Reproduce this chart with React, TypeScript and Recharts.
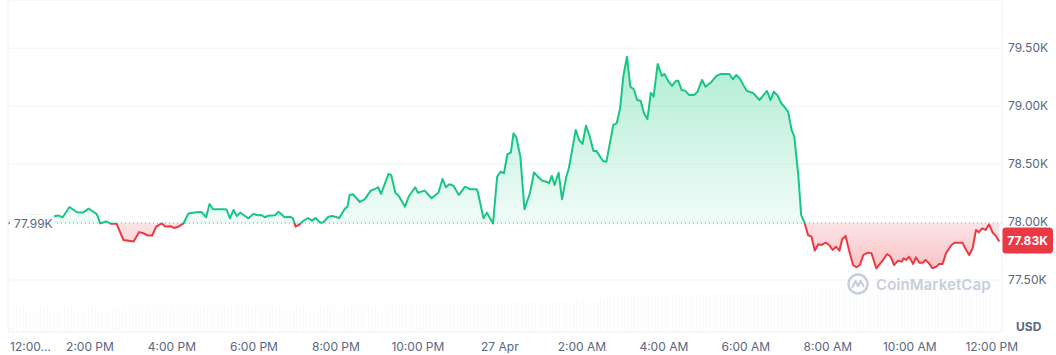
import React from 'react';
import { ComposedChart, Area, Bar, XAxis, YAxis, CartesianGrid, ReferenceLine } from 'recharts';

// Minutes since 12:00 PM (26 Apr)
const minutes = [
  0, 18, 40, 59, 66, 73, 80, 90, 101, 110,
  118, 121, 130, 135, 144, 150, 159, 169, 184, 192,
  198, 205, 211, 217, 225, 230, 238, 243, 250, 257,
  264, 276, 283, 290, 295, 300, 306, 315, 320, 325,
  330, 335, 340, 347, 352, 359, 366, 371, 376, 381,
  391, 396, 405, 413, 417, 421, 426, 432, 439, 445,
  450, 457, 461, 469, 475, 485, 493, 497, 500, 505,
  515, 522, 531, 539, 542, 546, 557, 561, 567, 572,
  581, 587, 596, 600, 610, 620, 630, 636, 641, 646,
  652, 660, 669, 676, 686, 688, 696, 701, 710, 716,
  721, 726, 731, 736, 740, 744, 750, 756, 764, 770,
  778, 782, 788, 792, 796, 800, 806, 811, 817, 821,
  831, 836, 841, 846, 851, 857, 861, 871, 876, 886,
  891, 896, 901, 906, 911, 916, 921, 926, 931, 936,
  941, 945, 951, 957, 961, 967, 972, 978, 981, 986,
  991, 997, 1004, 1009, 1016, 1021, 1030, 1037, 1044, 1056,
  1061, 1066, 1071, 1081, 1091, 1100, 1111, 1116, 1121, 1126,
  1132, 1140, 1142, 1147, 1151, 1157, 1161, 1166, 1171, 1176,
  1181, 1186, 1191, 1197, 1202, 1207, 1212, 1217, 1221, 1226,
  1231, 1237, 1242, 1247, 1252, 1259, 1264, 1271, 1279, 1287,
  1292, 1297, 1303, 1308, 1311, 1315, 1319, 1325, 1329, 1334,
  1339, 1343, 1348, 1353, 1359, 1363, 1368, 1373, 1381, 1386,
  1397, 1402, 1407, 1412, 1417, 1421, 1426, 1431, 1436, 1441,
  1446, 1451,
];

const prices = [
  77985, 78052, 78061, 78052, 78048, 78057, 78041, 78130, 78084, 78083,
  78115, 78104, 78068, 77988, 78005, 77986, 77985, 77845, 77832, 77913,
  77903, 77884, 77884, 77960, 77989, 77962, 77964, 77949, 77962, 77989,
  78074, 78085, 78087, 78041, 78156, 78110, 78110, 78110, 78108, 78032,
  78104, 78052, 78081, 78052, 78032, 78070, 78058, 78061, 78041, 78055,
  78058, 78089, 78041, 78046, 78032, 77960, 77975, 78009, 78035, 78012,
  78035, 77995, 77995, 78046, 78052, 78035, 78115, 78133, 78234, 78240,
  78173, 78196, 78271, 78291, 78300, 78242, 78415, 78404, 78253, 78225,
  78133, 78225, 78300, 78253, 78271, 78205, 78253, 78372, 78300, 78326,
  78314, 78234, 78305, 78283, 78283, 78253, 78032, 78081, 77988, 78391,
  78435, 78421, 78585, 78599, 78766, 78731, 78564, 78110, 78248, 78429,
  78378, 78357, 78348, 78335, 78398, 78320, 78426, 78196, 78386, 78464,
  78795, 78708, 78674, 78832, 78751, 78613, 78616, 78527, 78521, 78838,
  78852, 78982, 79269, 79427, 79168, 79146, 79053, 79047, 78939, 78887,
  79116, 79082, 79364, 79261, 79278, 79211, 79174, 79220, 79220, 79140,
  79134, 79097, 79097, 79122, 79226, 79168, 79211, 79261, 79278, 79278,
  79232, 79269, 79241, 79134, 79111, 79053, 79131, 79053, 79125, 79097,
  79025, 78967, 78950, 78795, 78737, 78391, 78061, 77995, 77888, 77874,
  77753, 77808, 77802, 77822, 77802, 77759, 77787, 77753, 77851, 77880,
  77759, 77629, 77610, 77629, 77716, 77736, 77730, 77601, 77658, 77724,
  77701, 77629, 77667, 77658, 77687, 77673, 77701, 77638, 77696, 77649,
  77649, 77673, 77644, 77601, 77615, 77638, 77638, 77730, 77802, 77822,
  77822, 77765, 77716, 77774, 77932, 77912, 77946, 77932, 77981, 77912,
  77880, 77832,
];

const openPrice = 77990;
const lastPrice = 77832;

// 5-minute volume bars (USD billions, 24h rolling), as runs of [bar count, value]
const volumeRuns: [number, number][] = [
  [36, 25.3], [30, 26.3], [4, 27.3], [9, 26.3], [9, 25.0], [11, 26.0], [15, 26.3],
  [17, 27.0], [13, 28.0], [4, 29.3], [14, 31.0], [13, 32.3], [6, 35.0], [10, 37.3],
  [9, 38.3], [11, 39.3], [20, 40.3], [3, 41.7], [4, 43.3], [10, 44.3], [4, 45.0],
  [36, 46.7], [1, 0], [1, 48.0],
];

const xTickMinutes = [0, 120, 240, 360, 480, 600, 720, 840, 960, 1080, 1200, 1320, 1440];
const xTickLabels = ['12:00...', '2:00 PM', '4:00 PM', '6:00 PM', '8:00 PM', '10:00 PM', '27 Apr',
  '2:00 AM', '4:00 AM', '6:00 AM', '8:00 AM', '10:00 AM', '12:00 PM'];
const yTicks = [77500, 78000, 78500, 79000, 79500];

const priceData = minutes.map((t, i) => ({ t, price: prices[i] }));
const volumeData: { t: number; vol: number }[] = [];
{
  let idx = 0;
  for (const [n, v] of volumeRuns) {
    for (let k = 0; k < n; k++) {
      volumeData.push({ t: idx * 5 + 2.5, vol: v });
      idx++;
    }
  }
}

const maxP = Math.max(...prices);
const minP = Math.min(...prices);
const off = (maxP - openPrice) / (maxP - minP);

const GREEN = '#16c784';
const RED = '#ea3943';
const TEXT = '#58667e';
const GRID = '#eff2f5';

const fmtK = (v: number) => `${(v / 1000).toFixed(2)}K`;

const XTick = (props: any) => {
  const { x, y, payload } = props;
  const i = xTickMinutes.indexOf(payload.value);
  const first = i === 0;
  return (
    <text x={first ? x + 2 : x} y={y + 19} textAnchor={first ? 'start' : 'middle'} fill={TEXT} fontSize={12}>
      {xTickLabels[i]}
    </text>
  );
};

const OpenLabel = (props: any) => {
  const vb = props.viewBox;
  return (
    <g>
      <rect x={vb.x + 2} y={vb.y - 9} width={44} height={18} fill="#fff" />
      <text x={vb.x + 6} y={vb.y + 4.5} fill={TEXT} fontSize={12}>{fmtK(openPrice)}</text>
    </g>
  );
};

const LastLabel = (props: any) => {
  const vb = props.viewBox;
  const x0 = vb.x + vb.width;
  return (
    <g>
      <rect x={x0} y={vb.y - 14} width={51} height={26} rx={4} ry={4} fill={RED} />
      <text x={x0 + 25.5} y={vb.y + 3.5} textAnchor="middle" fill="#fff" fontSize={12} fontWeight={700}>
        {fmtK(lastPrice)}
      </text>
    </g>
  );
};

export default function App() {
  return (
    <div style={{ position: 'absolute', left: 0, top: 0, width: 1056, height: 355, background: '#fff', fontFamily: 'Inter, "Noto Sans", sans-serif' }}>
      <ComposedChart width={1056} height={355} data={volumeData} margin={{ top: 0, right: 0, bottom: 0, left: 8 }}>
        <defs>
          <linearGradient id="lineSplit" x1="0" y1="0" x2="0" y2="1">
            <stop offset={off} stopColor={GREEN} />
            <stop offset={off} stopColor={RED} />
          </linearGradient>
          <linearGradient id="fillSplit" x1="0" y1="0" x2="0" y2="1">
            <stop offset={0} stopColor={GREEN} stopOpacity={0.34} />
            <stop offset={off} stopColor={GREEN} stopOpacity={0.06} />
            <stop offset={off} stopColor={RED} stopOpacity={0.14} />
            <stop offset={1} stopColor={RED} stopOpacity={0.3} />
          </linearGradient>
        </defs>
        <CartesianGrid xAxisId="t" yAxisId="price" vertical={false} stroke={GRID} />
        <XAxis
          xAxisId="t"
          dataKey="t"
          type="number"
          domain={[0, 1455]}
          ticks={xTickMinutes}
          interval={0}
          axisLine={false}
          tickLine={false}
          tickSize={0}
          tickMargin={0}
          height={23}
          tick={<XTick />}
          allowDataOverflow
        />
        <YAxis
          yAxisId="price"
          orientation="right"
          domain={[77051, 79916]}
          ticks={yTicks}
          tickFormatter={fmtK}
          axisLine={{ stroke: GRID }}
          tickLine={false}
          tickSize={0}
          tickMargin={6}
          width={54}
          tick={{ fill: TEXT, fontSize: 12 }}
          allowDataOverflow
        />
        <YAxis yAxisId="vol" hide domain={[0, 332]} allowDataOverflow />
        <Bar
          xAxisId="t"
          yAxisId="vol"
          dataKey="vol"
          fill="#e8ecf1"
          barSize={3.2}
          isAnimationActive={false}
        />
        <ReferenceLine xAxisId="t" yAxisId="price" x={0} stroke={GRID} />
        <Area
          xAxisId="t"
          yAxisId="price"
          data={priceData}
          dataKey="price"
          type="linear"
          baseValue={openPrice}
          stroke="url(#lineSplit)"
          strokeWidth={2}
          strokeLinejoin="round"
          fill="url(#fillSplit)"
          fillOpacity={1}
          dot={false}
          activeDot={false}
          isAnimationActive={false}
        />
        <ReferenceLine
          xAxisId="t"
          yAxisId="price"
          y={openPrice}
          stroke="#9aa3b5"
          strokeDasharray="1 3"
          label={<OpenLabel />}
        />
        <ReferenceLine
          xAxisId="t"
          yAxisId="price"
          y={lastPrice}
          stroke="none"
          label={<LastLabel />}
        />
      </ComposedChart>
      <div style={{ position: 'absolute', left: 1016, top: 319, fontSize: 12, fontWeight: 700, color: TEXT }}>USD</div>
      <div style={{ position: 'absolute', left: 846, top: 272, display: 'flex', alignItems: 'center', pointerEvents: 'none' }}>
        <svg width={24} height={24} viewBox="0 0 24 24">
          <circle cx={12} cy={12} r={9.5} fill="none" stroke="#c7ced9" strokeWidth={2.4} />
          <polyline points="6.5,15 9.5,9 12,14 14.5,9 17.5,14" fill="none" stroke="#c7ced9" strokeWidth={2.2} strokeLinejoin="round" strokeLinecap="round" />
        </svg>
        <span style={{ marginLeft: 6, fontSize: 15, fontWeight: 600, color: '#c7ced9', letterSpacing: 0.1 }}>CoinMarketCap</span>
      </div>
    </div>
  );
}
